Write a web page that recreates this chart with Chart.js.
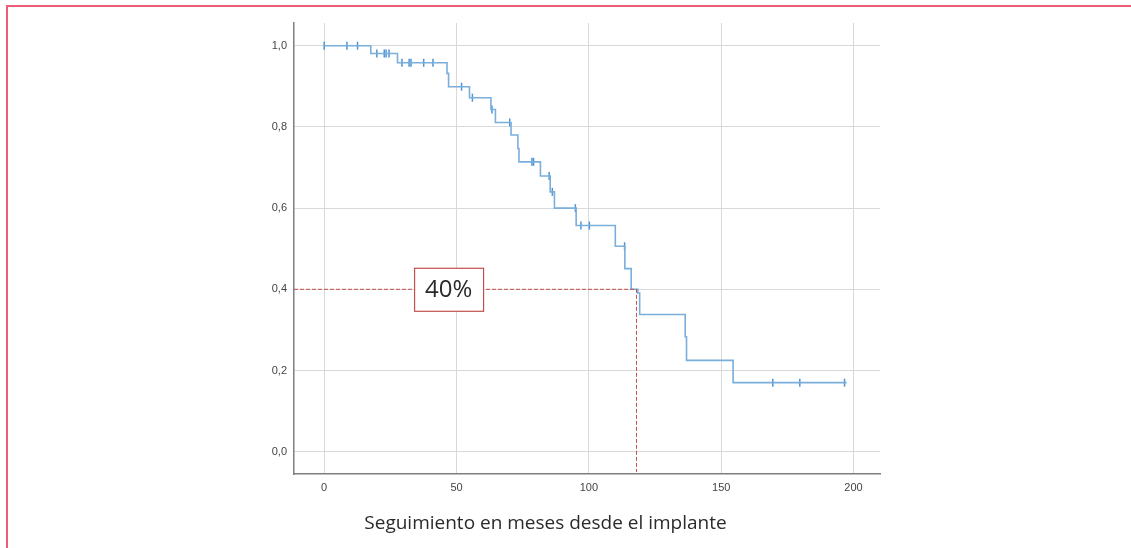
<!DOCTYPE html>
<html>
<head>
<meta charset="utf-8">
<script src="https://cdn.jsdelivr.net/npm/chart.js@4.4.0/dist/chart.umd.min.js"></script>
<style>
  body { margin: 0; background: #fff; }
  #wrap { position: relative; width: 1131px; height: 548px; overflow: hidden; }
  #frame { position: absolute; left: 6px; top: 5px; width: 1200px; height: 600px;
           border-top: 2px solid #ec5f77; border-left: 2px solid #ec5f77; }
  #xtitle { position: absolute; left: 0; width: 1091px; top: 509px; text-align: center;
            font-family: "Open Sans", sans-serif; font-size: 19px; color: #2a2a2a; }
</style>
</head>
<body>
<div id="wrap">
  <div id="frame"></div>
  <canvas id="km" width="1131" height="548"></canvas>
  <div id="xtitle">Seguimiento en meses desde el implante</div>
</div>
<script>
// Kaplan-Meier steps
const eventTimes = [0, 17.6, 27.7, 46.4, 47.0, 54.9, 63.0, 64.7, 70.6, 73.2, 73.6, 81.7, 85.4, 87.0,
                    95.2, 110.0, 113.6, 116.0, 118.5, 119.2, 136.4, 136.9, 154.5, 197.4]
const survival = [1.0, 0.981, 0.958, 0.932, 0.899, 0.872, 0.843, 0.811, 0.780, 0.747, 0.714, 0.679, 0.640, 0.600,
                  0.557, 0.506, 0.451, 0.400, 0.391, 0.338, 0.283, 0.225, 0.170, 0.170]

// censored observations
const censorTimes = [0, 8.6, 12.6, 19.9, 22.7, 23.4, 24.5, 29.4, 32.1, 32.8, 37.6, 41.1, 51.9, 56.0,
                     63.4, 70.1, 78.5, 79.1, 85.0, 86.2, 94.9, 97.0, 100.2, 113.5, 169.5, 179.7, 196.6]
const censorSurv = [1, 1, 1, 0.981, 0.981, 0.981, 0.981, 0.958, 0.958, 0.958, 0.958, 0.958, 0.899, 0.872,
                    0.843, 0.811, 0.714, 0.714, 0.679, 0.640, 0.600, 0.557, 0.557, 0.506, 0.170, 0.170, 0.170]

// median marker (40%)
const medianX = [-11.4, 118, 118]
const medianY = [0.4, 0.4, -0.05]
const medianLabel = '40%'

const xTicks = [0, 50, 100, 150, 200]
const yTicks = [0, 0.2, 0.4, 0.6, 0.8, 1.0]

const toPts = (xs, ys) => xs.map((x, i) => ({x: x, y: ys[i]}))

const labelBox = {
    id: 'labelBox',
    afterDatasetsDraw(chart) {
        const ctx = chart.ctx
        const cx = chart.scales.x.getPixelForValue(47)
        const cy = chart.scales.y.getPixelForValue(0.4)
        const w = 69, h = 43
        ctx.save()
        ctx.fillStyle = '#fff'
        ctx.fillRect(cx - w/2, cy - h/2, w, h)
        ctx.strokeStyle = '#c0504d'
        ctx.lineWidth = 1.2
        ctx.strokeRect(cx - w/2 + 0.5, cy - h/2 + 0.5, w, h)
        ctx.fillStyle = '#2a2a2a'
        ctx.font = '24px "Open Sans", sans-serif'
        ctx.textAlign = 'center'
        ctx.textBaseline = 'middle'
        ctx.fillText(medianLabel, cx, cy + 1)
        ctx.restore()
    }
}

const config = {
    type: 'scatter',
    data: {
        datasets: [
            {
                label: 'median',
                data: toPts(medianX, medianY),
                showLine: true,
                borderColor: '#c0504d',
                borderWidth: 1,
                borderDash: [4, 2],
                pointRadius: 0
            },
            {
                label: 'survival',
                data: toPts(eventTimes, survival),
                showLine: true,
                stepped: 'before',
                borderColor: '#7aaedb',
                borderWidth: 1.6,
                pointRadius: 0
            },
            {
                label: 'censored',
                data: toPts(censorTimes, censorSurv),
                pointStyle: 'line',
                rotation: 90,
                pointRadius: 4,
                borderColor: '#4f94d4',
                borderWidth: 1.5
            }
        ]
    },
    options: {
        responsive: false,
        animation: false,
        layout: { padding: { left: 250, right: 251, top: 23, bottom: 44 } },
        plugins: { legend: { display: false }, tooltip: { enabled: false } },
        scales: {
            x: {
                type: 'linear',
                min: -11.4,
                max: 210,
                afterBuildTicks: s => { s.ticks = xTicks.map(v => ({value: v})) },
                afterFit: s => { s.height = 30 },
                grid: { color: '#d9d9d9', drawTicks: false },
                border: { color: '#7f7f7f', width: 1.5 },
                ticks: {
                    padding: 7,
                    color: '#444',
                    font: { family: 'Liberation Sans', size: 11 }
                }
            },
            y: {
                min: -0.055,
                max: 1.056,
                afterBuildTicks: s => { s.ticks = yTicks.map(v => ({value: v})) },
                afterFit: s => { s.width = 44 },
                grid: { color: '#d9d9d9', drawTicks: false },
                border: { color: '#7f7f7f', width: 1.5 },
                ticks: {
                    padding: 7,
                    color: '#444',
                    font: { family: 'Liberation Sans', size: 11 },
                    callback: v => v.toFixed(1).replace('.', ',')
                }
            }
        }
    },
    plugins: [labelBox]
}

let ctx = document.getElementById('km').getContext('2d')
new Chart(ctx, config)
</script>
</body>
</html>
